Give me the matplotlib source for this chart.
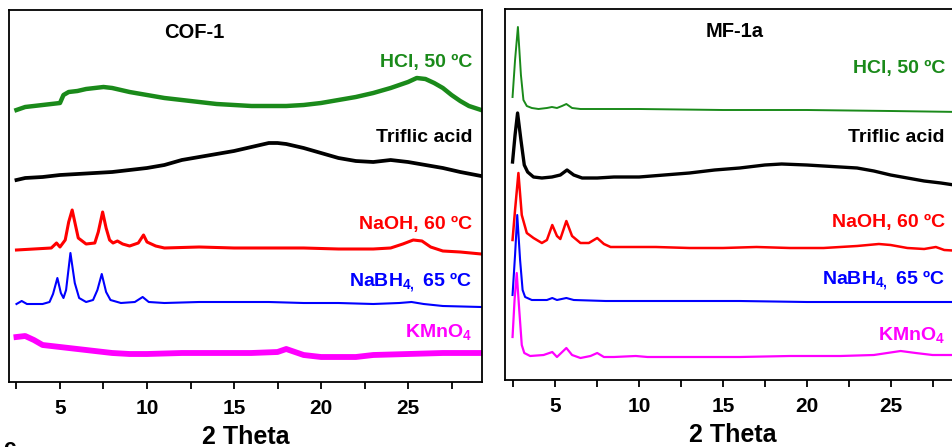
import matplotlib.pyplot as plt
import numpy as np

plt.rcParams['font.family'] = ['Liberation Sans', 'DejaVu Sans']
plt.rcParams['font.weight'] = 'bold'
plt.rcParams['mathtext.fontset'] = 'custom'
plt.rcParams['mathtext.rm'] = 'Liberation Sans:bold'
plt.rcParams['mathtext.bf'] = 'Liberation Sans:bold'
plt.rcParams['mathtext.default'] = 'rm'

# COF-1 patterns (2 theta, intensity a.u. stacked)
cof_hcl_x = [2.5, 3.0, 3.5, 4.0, 4.5, 5.0, 5.2, 5.5, 6.0, 6.5, 7.0, 7.5, 8.0, 8.5, 9.0, 10, 11, 12, 13,
             14, 15, 16, 17, 18, 19, 20, 21, 22, 23, 24, 25, 25.5, 26, 26.5, 27, 27.5, 28, 28.5, 29.2]
cof_hcl_y = [272, 275, 276, 277, 278, 279, 287, 290, 291, 293, 294, 295, 294, 292, 290, 287, 284, 282,
             280, 278, 277, 276, 276, 276, 277, 279, 282, 285, 289, 294, 300, 304, 303, 299, 294, 287,
             281, 276, 272]

cof_tfa_x = [2.5, 3, 4, 5, 6, 7, 8, 9, 10, 11, 12, 13, 14, 15, 16, 17, 17.5, 18, 19, 20, 21, 22, 23,
             24, 25, 26, 27, 28, 29.2]
cof_tfa_y = [202, 204, 205, 207, 208, 209, 210, 212, 214, 217, 222, 225, 228, 231, 235, 239, 239, 238,
             234, 229, 224, 221, 220, 222, 220, 217, 214, 210, 206]

cof_naoh_x = [2.5, 3.5, 4.5, 4.8, 5.0, 5.3, 5.5, 5.7, 5.85, 6.05, 6.5, 7.0, 7.2, 7.45, 7.65, 7.85, 8.05,
              8.3, 8.6, 9.0, 9.5, 9.8, 10.0, 10.5, 11, 13, 15, 17, 19, 21, 23, 24, 24.7, 25.3, 25.8,
              26.3, 27, 28, 29.2]
cof_naoh_y = [132, 133, 134, 139, 135, 142, 160, 172, 160, 144, 138, 139, 150, 170, 154, 142, 139, 141,
              138, 136, 139, 147, 140, 136, 134, 135, 134, 134, 134, 133, 133, 134, 138, 142, 141, 135,
              131, 130, 128]

cof_nabh_x = [2.5, 2.8, 3.1, 3.5, 4.0, 4.4, 4.6, 4.85, 5.05, 5.2, 5.35, 5.6, 5.85, 6.1, 6.5, 6.9, 7.15,
              7.4, 7.65, 7.9, 8.5, 9.3, 9.75, 10.1, 11, 13, 15, 17, 19, 21, 23, 24.5, 25.2, 25.9, 27,
              29.2]
cof_nabh_y = [78, 81, 78, 78, 78, 80, 88, 104, 89, 84, 92, 129, 99, 84, 80, 82, 92, 108, 90, 82, 79,
              80, 85, 80, 79, 80, 80, 80, 79, 79, 78, 79, 80, 78, 76, 75]

cof_kmno_x = [2.5, 3, 3.5, 4, 5, 6, 7, 8, 9, 10, 12, 14, 16, 17.5, 18, 18.5, 19, 20, 22, 23, 25, 27,
              29.2]
cof_kmno_y = [45, 46, 42, 37, 35, 33, 31, 29, 28, 28, 29, 29, 29, 30, 33, 30, 27, 25, 25, 27, 28, 29,
              29]

# MF-1a patterns
mf_hcl_x = [2.45, 2.6, 2.77, 2.95, 3.1, 3.3, 3.6, 4.0, 4.5, 4.8, 5.1, 5.4, 5.66, 6.0, 6.5, 8, 10, 15,
            20, 25, 29.2]
mf_hcl_y = [283, 320, 353, 305, 280, 274, 272, 271, 272, 273, 272, 274, 276, 272, 271, 271, 271, 270,
            270, 269, 268]

mf_tfa_x = [2.45, 2.6, 2.75, 2.95, 3.15, 3.35, 3.7, 4.2, 4.8, 5.3, 5.7, 6.1, 6.6, 7.5, 8.5, 10, 11.5,
            13, 14.5, 16, 17.5, 18.5, 20, 21, 22, 23, 24, 25, 26, 27, 28, 29.2]
mf_tfa_y = [218, 245, 267, 240, 215, 208, 203, 202, 203, 205, 210, 205, 202, 202, 203, 203, 205, 207,
            210, 212, 215, 216, 215, 214, 213, 212, 209, 205, 202, 199, 197, 194]

mf_naoh_x = [2.45, 2.6, 2.8, 3.0, 3.3, 3.7, 4.2, 4.5, 4.82, 5.1, 5.3, 5.66, 6.0, 6.5, 7.0, 7.5, 7.9,
             8.3, 9, 11, 13, 15, 17, 19, 21, 23, 24.3, 25, 26, 27, 27.7, 28.2, 29.2]
mf_naoh_y = [140, 170, 207, 165, 147, 142, 137, 140, 155, 144, 141, 159, 144, 137, 137, 142, 136, 133,
             133, 133, 132, 132, 133, 132, 132, 134, 136, 135, 132, 131, 133, 130, 129]

mf_nabh_x = [2.45, 2.6, 2.73, 2.9, 3.05, 3.2, 3.6, 4.5, 4.82, 5.1, 5.66, 6.1, 8, 12, 16, 20, 25, 29.2]
mf_nabh_y = [85, 125, 165, 120, 90, 83, 80, 80, 82, 80, 82, 80, 79, 79, 79, 78, 78, 78]

mf_kmno_x = [2.45, 2.57, 2.7, 2.85, 3.0, 3.15, 3.5, 4.3, 4.82, 5.1, 5.66, 6.0, 6.5, 7.1, 7.5, 7.9, 8.5,
             9.8, 10.5, 13, 16, 19, 22, 24, 25.6, 26.5, 27.5, 29.2]
mf_kmno_y = [43, 80, 107, 70, 35, 27, 24, 25, 28, 23, 32, 25, 22, 24, 27, 23, 23, 24, 23, 23, 23, 24,
             24, 25, 29, 27, 25, 25]

labels = ['HCl, 50 ºC', 'Triflic acid', 'NaOH, 60 ºC', r'NaBH$_{4,}$ 65 ºC', r'KMnO$_4$']
colors = ['#1a8a1a', 'black', 'red', 'blue', 'magenta']

W, H = 953, 447
fig = plt.figure(figsize=(W / 100, H / 100), dpi=100)

ax1 = fig.add_axes([9 / W, (H - 382) / H, 473 / W, 372 / H])
ax2 = fig.add_axes([505 / W, (H - 380) / H, 456 / W, 371 / H])

cof = [(cof_hcl_x, cof_hcl_y), (cof_tfa_x, cof_tfa_y), (cof_naoh_x, cof_naoh_y),
       (cof_nabh_x, cof_nabh_y), (cof_kmno_x, cof_kmno_y)]
mf = [(mf_hcl_x, mf_hcl_y), (mf_tfa_x, mf_tfa_y), (mf_naoh_x, mf_naoh_y),
      (mf_nabh_x, mf_nabh_y), (mf_kmno_x, mf_kmno_y)]

cof_lw = [3.2, 2.7, 2.2, 1.5, 4.2]
mf_lw = [1.4, 2.4, 1.8, 1.5, 1.6]

# label y positions (axes fraction)
cof_lab_y = [(382 - 63) / 372, (382 - 138) / 372, (382 - 225) / 372, (382 - 282) / 372, (382 - 332) / 372]
mf_lab_y = [(380 - 68) / 371, (380 - 138) / 371, (380 - 222) / 371, (380 - 280) / 371, (380 - 335) / 371]

for (x, y), c, lw, ly, lab in zip(cof, colors, cof_lw, cof_lab_y, labels):
    ax1.plot(x, y, color=c, lw=lw, solid_joinstyle='round')
    ax1.text(0.98, ly, lab, color=c, fontsize=14, fontweight='bold', ha='right', va='center',
             transform=ax1.transAxes)

for (x, y), c, lw, ly, lab in zip(mf, colors, mf_lw, mf_lab_y, labels):
    ax2.plot(x, y, color=c, lw=lw, solid_joinstyle='round')
    ax2.text((945 - 505) / 456, ly, lab, color=c, fontsize=14, fontweight='bold', ha='right',
             va='center', transform=ax2.transAxes)

ax1.set_xlim(2.07, 29.25)
ax2.set_xlim(2.0, 29.2)
ax1.set_ylim(0, 372)
ax2.set_ylim(0, 371)

for ax, title, tx in [(ax1, 'COF-1', (194 - 9) / 473), (ax2, 'MF-1a', (735 - 505) / 456)]:
    ax.text(tx, (372 - 23) / 372, title, fontsize=14.5, fontweight='bold', ha='center', va='center',
            transform=ax.transAxes)
    ax.set_yticks([])
    ax.set_xticks([5, 10, 15, 20, 25])
    ax.set_xticks(np.arange(2.5, 29, 2.5), minor=True)
    ax.tick_params(axis='x', which='both', direction='out', length=5, width=1.3)
    ax.tick_params(axis='x', which='major', labelsize=15, pad=7)
    for lab in ax.get_xticklabels():
        lab.set_fontweight('bold')
    for s in ax.spines.values():
        s.set_linewidth(1.3)
    ax.set_xlabel('2 Theta', fontsize=18, fontweight='bold', labelpad=5)

fig.text(3 / W, 1 - 438 / H, 'c', fontsize=16, fontweight='bold', ha='left', va='top')

fig.savefig('out.png', dpi=100)
